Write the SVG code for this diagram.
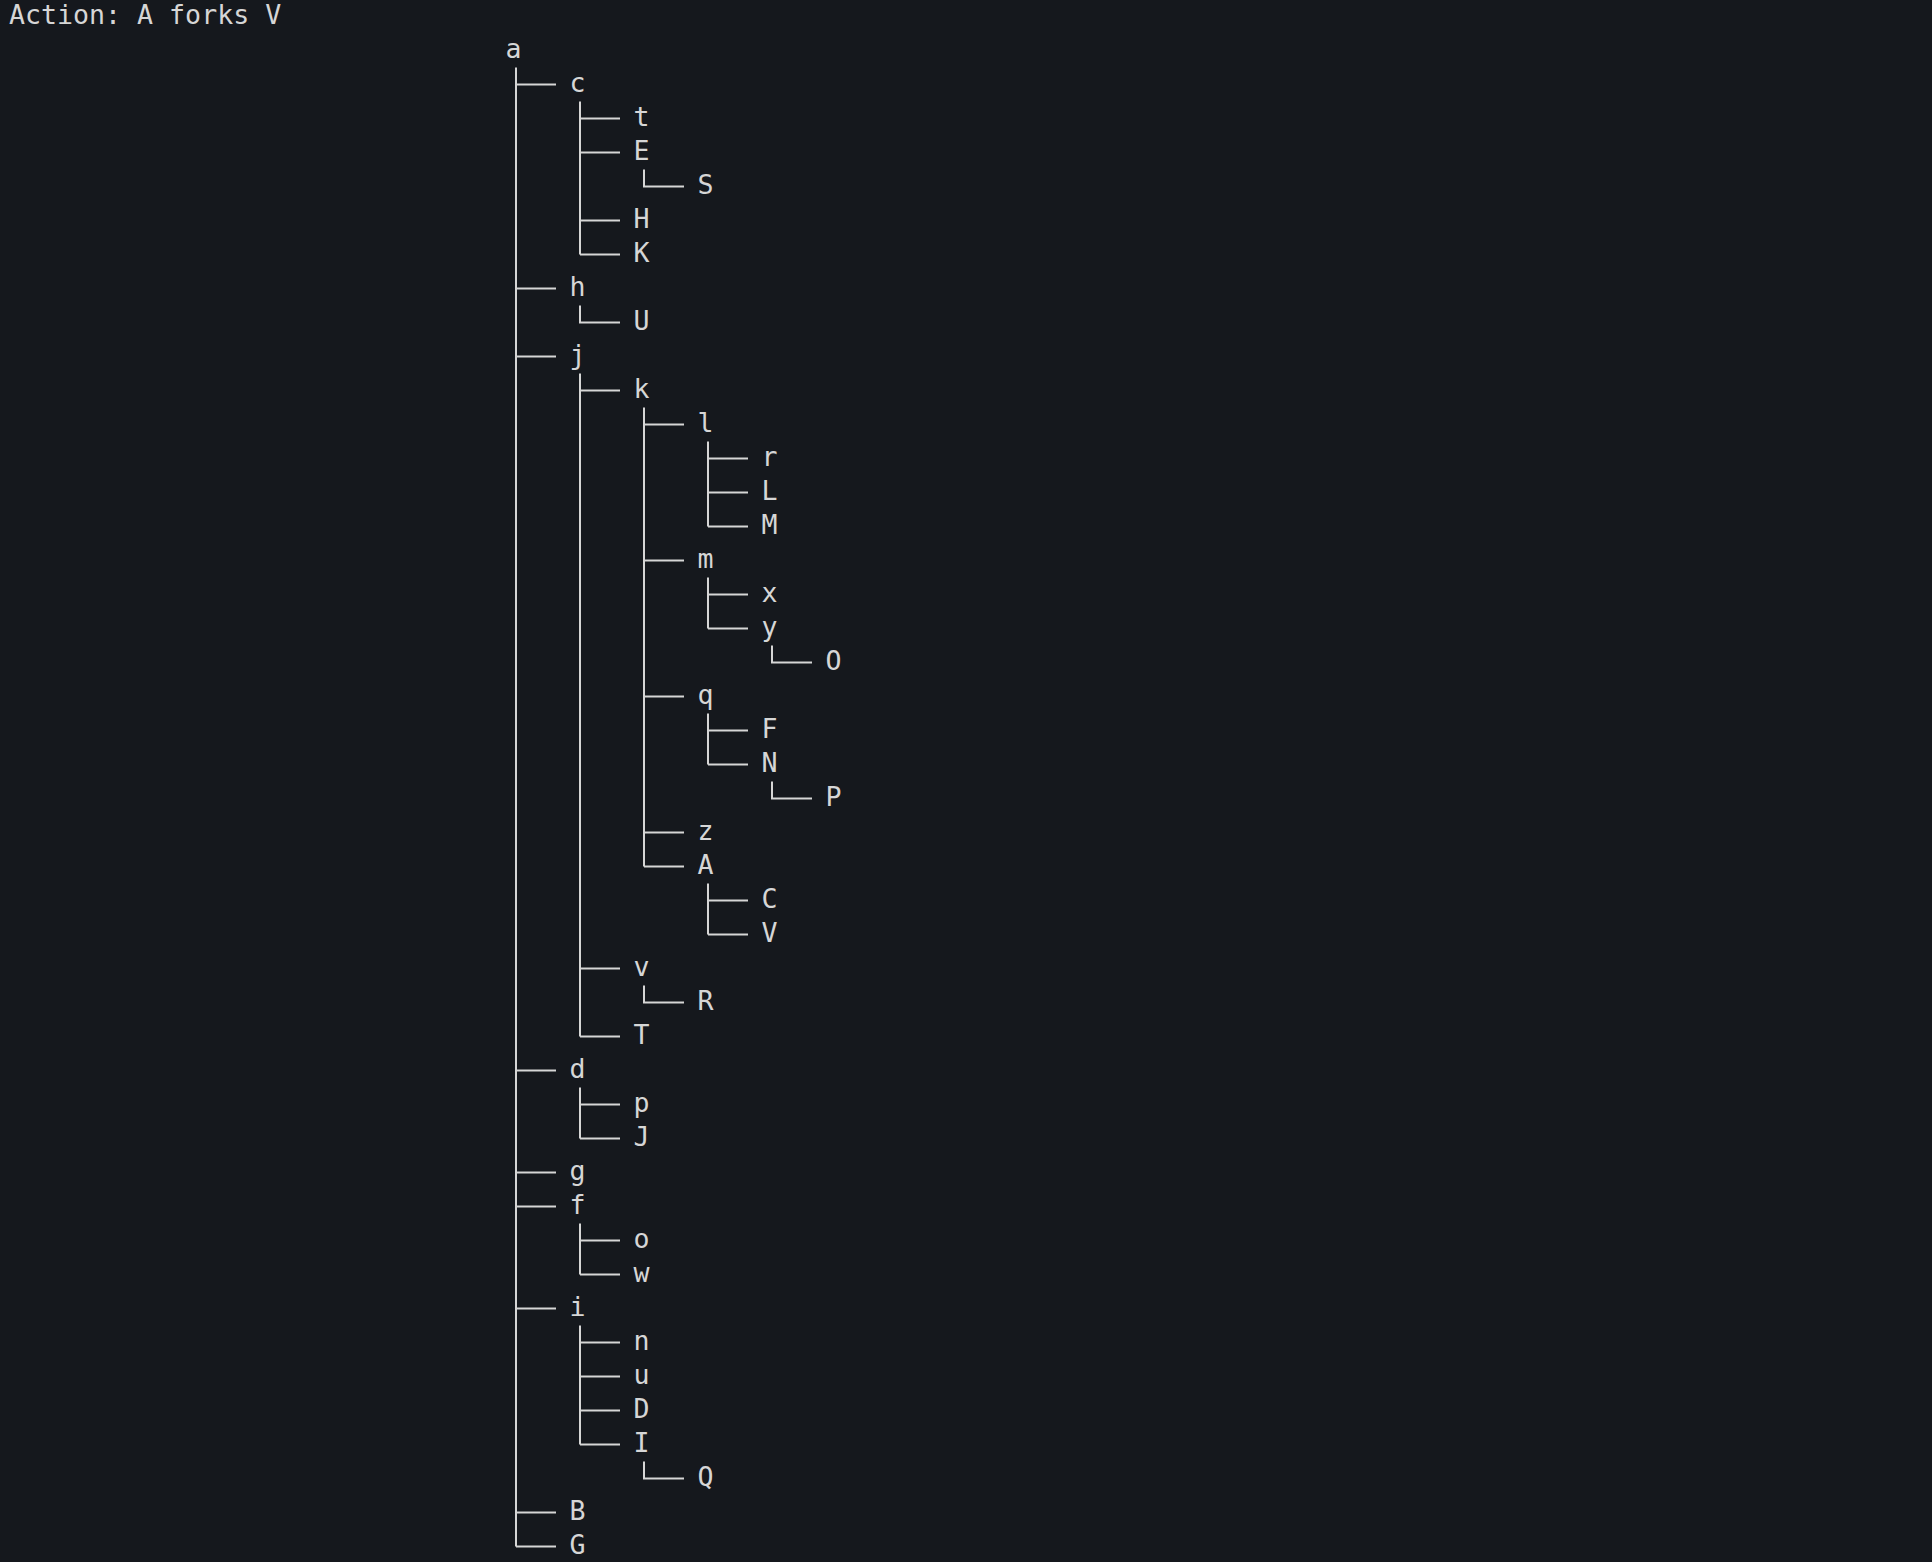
<svg xmlns="http://www.w3.org/2000/svg" width="1932" height="1562" viewBox="0 0 1932 1562">
<style>
text{font-family:"DejaVu Sans Mono","Liberation Mono",monospace;font-size:26.6px;fill:#d6d6d6;text-anchor:middle}
.hdr{text-anchor:start}
.c path{fill:none;stroke:#d6d6d6;stroke-width:2}
</style>
<rect width="1932" height="1562" fill="#15181d"/>
<text class="hdr" x="9" y="24">Action: A forks V</text>
<g class="c" id="connectors">
<path d="M516 67.5V1546.5M516 84.5h40M516 288.5h40M516 356.5h40M516 1070.5h40M516 1172.5h40M516 1206.5h40M516 1308.5h40M516 1512.5h40M516 1546.5h40"/>
<path d="M580 101.5V254.5M580 118.5h40M580 152.5h40M580 220.5h40M580 254.5h40"/>
<path d="M644 169.5V186.5h40"/>
<path d="M580 305.5V322.5h40"/>
<path d="M580 373.5V1036.5M580 390.5h40M580 968.5h40M580 1036.5h40"/>
<path d="M644 407.5V866.5M644 424.5h40M644 560.5h40M644 696.5h40M644 832.5h40M644 866.5h40"/>
<path d="M708 441.5V526.5M708 458.5h40M708 492.5h40M708 526.5h40"/>
<path d="M708 577.5V628.5M708 594.5h40M708 628.5h40"/>
<path d="M772 645.5V662.5h40"/>
<path d="M708 713.5V764.5M708 730.5h40M708 764.5h40"/>
<path d="M772 781.5V798.5h40"/>
<path d="M708 883.5V934.5M708 900.5h40M708 934.5h40"/>
<path d="M644 985.5V1002.5h40"/>
<path d="M580 1087.5V1138.5M580 1104.5h40M580 1138.5h40"/>
<path d="M580 1223.5V1274.5M580 1240.5h40M580 1274.5h40"/>
<path d="M580 1325.5V1444.5M580 1342.5h40M580 1376.5h40M580 1410.5h40M580 1444.5h40"/>
<path d="M644 1461.5V1478.5h40"/>
</g>
<g transform="translate(-2.5 0)">
<g id="n-a"><text x="516" y="58">a</text></g>
<g id="n-c"><text x="580" y="92">c</text></g>
<g id="n-t"><text x="644" y="126">t</text></g>
<g id="n-E"><text x="644" y="160">E</text></g>
<g id="n-S"><text x="708" y="194">S</text></g>
<g id="n-H"><text x="644" y="228">H</text></g>
<g id="n-K"><text x="644" y="262">K</text></g>
<g id="n-h"><text x="580" y="296">h</text></g>
<g id="n-U"><text x="644" y="330">U</text></g>
<g id="n-j"><text x="580" y="364">j</text></g>
<g id="n-k"><text x="644" y="398">k</text></g>
<g id="n-l"><text x="708" y="432">l</text></g>
<g id="n-r"><text x="772" y="466">r</text></g>
<g id="n-L"><text x="772" y="500">L</text></g>
<g id="n-M"><text x="772" y="534">M</text></g>
<g id="n-m"><text x="708" y="568">m</text></g>
<g id="n-x"><text x="772" y="602">x</text></g>
<g id="n-y"><text x="772" y="636">y</text></g>
<g id="n-O"><text x="836" y="670">O</text></g>
<g id="n-q"><text x="708" y="704">q</text></g>
<g id="n-F"><text x="772" y="738">F</text></g>
<g id="n-N"><text x="772" y="772">N</text></g>
<g id="n-P"><text x="836" y="806">P</text></g>
<g id="n-z"><text x="708" y="840">z</text></g>
<g id="n-A"><text x="708" y="874">A</text></g>
<g id="n-C"><text x="772" y="908">C</text></g>
<g id="n-V"><text x="772" y="942">V</text></g>
<g id="n-v"><text x="644" y="976">v</text></g>
<g id="n-R"><text x="708" y="1010">R</text></g>
<g id="n-T"><text x="644" y="1044">T</text></g>
<g id="n-d"><text x="580" y="1078">d</text></g>
<g id="n-p"><text x="644" y="1112">p</text></g>
<g id="n-J"><text x="644" y="1146">J</text></g>
<g id="n-g"><text x="580" y="1180">g</text></g>
<g id="n-f"><text x="580" y="1214">f</text></g>
<g id="n-o"><text x="644" y="1248">o</text></g>
<g id="n-w"><text x="644" y="1282">w</text></g>
<g id="n-i"><text x="580" y="1316">i</text></g>
<g id="n-n"><text x="644" y="1350">n</text></g>
<g id="n-u"><text x="644" y="1384">u</text></g>
<g id="n-D"><text x="644" y="1418">D</text></g>
<g id="n-I"><text x="644" y="1452">I</text></g>
<g id="n-Q"><text x="708" y="1486">Q</text></g>
<g id="n-B"><text x="580" y="1520">B</text></g>
<g id="n-G"><text x="580" y="1554">G</text></g>
</g>
</svg>
